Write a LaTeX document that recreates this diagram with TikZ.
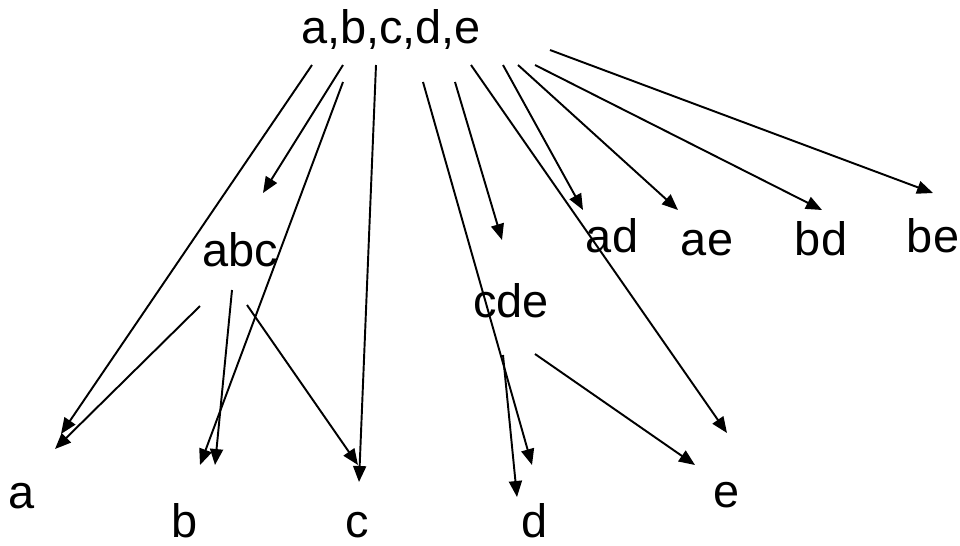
\documentclass[tikz,border=0pt]{standalone}
\usepackage{fontspec}
\setmainfont{Liberation Sans}
\usetikzlibrary{arrows.meta}

\begin{document}
\begin{tikzpicture}[x=0.02cm, y=-0.02cm,
	>={Triangle[length=0.32cm, width=0.26cm]},
	lbl/.style={anchor=base, inner sep=0pt, text depth=0pt, font=\fontsize{26.7}{32}\selectfont},
	link/.style={->, line width=1.1pt}]
	\useasboundingbox (0,0) rectangle (960,545);
	% labels
	\node[lbl] (all) at (391,43) {a,b,c,d,e};
	\node[lbl] (abc) at (240,266) {abc};
	\node[lbl] (cde) at (511,317) {cde};
	\node[lbl] (ad) at (612,252) {ad};
	\node[lbl] (ae) at (707,255) {ae};
	\node[lbl] (bd) at (821,255) {bd};
	\node[lbl] (be) at (933,252) {be};
	\node[lbl] (a) at (22,508) {a};
	\node[lbl] (b) at (185,537) {b};
	\node[lbl] (c) at (357,537) {c};
	\node[lbl] (d) at (535,537) {d};
	\node[lbl] (e) at (727,507) {e};
	% arrow ends
	\coordinate (all-a) at (312,65);    \coordinate (a-all) at (61,434);
	\coordinate (all-abc) at (343,65);  \coordinate (abc-all) at (263,193);
	\coordinate (all-b) at (343,82);    \coordinate (b-all) at (200,465);
	\coordinate (all-c) at (376,65);    \coordinate (c-all) at (359,482);
	\coordinate (all-d) at (423,82);    \coordinate (d-all) at (532,465);
	\coordinate (all-cde) at (455,82);  \coordinate (cde-all) at (502,240);
	\coordinate (all-e) at (471,65);    \coordinate (e-all) at (727,433);
	\coordinate (all-ad) at (503,65);   \coordinate (ad-all) at (583,210);
	\coordinate (all-ae) at (518,65);   \coordinate (ae-all) at (678,210);
	\coordinate (all-bd) at (535,65);   \coordinate (bd-all) at (822,210);
	\coordinate (all-be) at (550,50);   \coordinate (be-all) at (933,193);
	\coordinate (abc-a) at (200,306);   \coordinate (a-abc) at (55,449);
	\coordinate (abc-b) at (232,290);   \coordinate (b-abc) at (215,465);
	\coordinate (abc-c) at (247,305);   \coordinate (c-abc) at (358,465);
	\coordinate (cde-d) at (503,355);   \coordinate (d-cde) at (517,497);
	\coordinate (cde-e) at (535,354);   \coordinate (e-cde) at (695,465);
	% arrows
	\foreach \s/\t in {all/a, all/abc, all/b, all/c, all/d, all/cde, all/e,
		all/ad, all/ae, all/bd, all/be, abc/a, abc/b, abc/c, cde/d, cde/e}
		\draw[link] (\s-\t) -- (\t-\s);
\end{tikzpicture}
\end{document}
